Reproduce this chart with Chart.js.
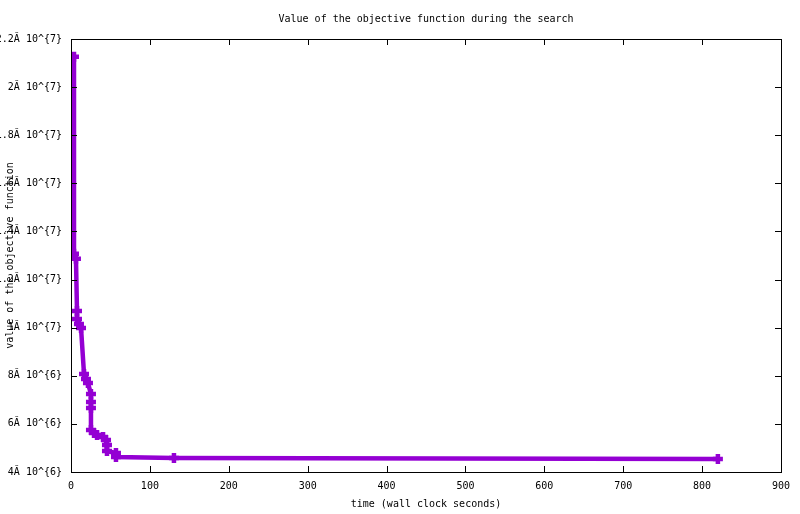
<!DOCTYPE html>
<html>
<head>
<meta charset="utf-8">
<script src="https://cdn.jsdelivr.net/npm/chart.js@4"></script>
<style>
  html, body { margin: 0; padding: 0; background: #fff; }
  canvas { display: block; }
</style>
</head>
<body>
<canvas id="grafico" width="800" height="514"></canvas>
<script>
// wall clock seconds
const tiempos = [3.8, 3.8, 6.3, 7.6, 7.6, 10.1, 12.7, 16.5, 19, 21.5, 25.3, 25.3, 25.3,
  25.3, 29.2, 33, 40.6, 44.4, 45.6, 45.6, 57, 57, 130.5, 820];
// objective function values
const valores = [21.26e6, 13.07e6, 12.86e6, 10.69e6, 10.36e6, 10.15e6, 9.99e6, 8.07e6, 7.87e6,
  7.70e6, 7.24e6, 6.91e6, 6.66e6, 5.75e6, 5.62e6, 5.54e6, 5.46e6, 5.33e6, 5.12e6, 4.87e6,
  4.79e6, 4.62e6, 4.58e6, 4.54e6];
const ticksY = [4e6, 6e6, 8e6, 1e7, 1.2e7, 1.4e7, 1.6e7, 1.8e7, 2e7, 2.2e7];
const etiquetasY = ['4Ă 10^{6}', '6Ă 10^{6}', '8Ă 10^{6}', '1Ă 10^{7}', '1.2Ă 10^{7}',
  '1.4Ă 10^{7}', '1.6Ă 10^{7}', '1.8Ă 10^{7}', '2Ă 10^{7}', '2.2Ă 10^{7}'];

const color = '#9400D3';
Chart.defaults.font.family = "'DejaVu Sans Mono', monospace";
Chart.defaults.font.size = 10;
Chart.defaults.color = '#000';

// gnuplot style frame with inward ticks (mirrored)
const marco = {
  id: 'marco',
  afterDraw(chart) {
    const { ctx, chartArea: a, scales } = chart;
    ctx.save();
    ctx.strokeStyle = '#000';
    ctx.lineWidth = 1;
    ctx.strokeRect(a.left + 0.5, a.top + 0.5, a.right - a.left, a.bottom - a.top);
    const largo = 6;
    ctx.beginPath();
    scales.x.ticks.forEach(t => {
      const px = Math.round(scales.x.getPixelForValue(t.value)) + 0.5;
      ctx.moveTo(px, a.bottom); ctx.lineTo(px, a.bottom - largo);
      ctx.moveTo(px, a.top); ctx.lineTo(px, a.top + largo);
    });
    scales.y.ticks.forEach(t => {
      const py = Math.round(scales.y.getPixelForValue(t.value)) + 0.5;
      ctx.moveTo(a.left, py); ctx.lineTo(a.left + largo, py);
      ctx.moveTo(a.right, py); ctx.lineTo(a.right - largo, py);
    });
    ctx.stroke();
    ctx.restore();
  }
};

new Chart(document.getElementById('grafico'), {
  type: 'line',
  data: {
    datasets: [{
      data: tiempos.map((t, i) => ({ x: t, y: valores[i] })),
      borderColor: color,
      backgroundColor: color,
      borderWidth: 4.5,
      tension: 0,
      pointStyle: 'cross',
      pointRadius: 5,
      pointBorderWidth: 4.5,
      pointBorderColor: color
    }]
  },
  options: {
    responsive: false,
    animation: false,
    devicePixelRatio: 1,
    layout: { padding: { left: 0, right: 19, top: 0, bottom: 0 } },
    plugins: {
      legend: { display: false },
      tooltip: { enabled: false },
      title: {
        display: true,
        fullSize: false,
        text: 'Value of the objective function during the search',
        font: { size: 10, weight: 'normal', lineHeight: 1.2 },
        color: '#000',
        padding: { top: 13, bottom: 14 }
      }
    },
    scales: {
      x: {
        type: 'linear',
        min: 0,
        max: 900,
        ticks: { stepSize: 100, padding: 8, maxRotation: 0 },
        grid: { display: false, drawTicks: false },
        border: { display: false },
        title: { display: true, text: 'time (wall clock seconds)', padding: { top: 4, bottom: 4 } },
        afterFit(s) { s.height = 42; }
      },
      y: {
        type: 'linear',
        min: 4e6,
        max: 2.2e7,
        ticks: {
          stepSize: 2e6,
          padding: 9,
          callback: v => {
            const i = ticksY.findIndex(k => Math.abs(k - v) < 1);
            return i >= 0 ? etiquetasY[i] : '';
          }
        },
        grid: { display: false, drawTicks: false },
        border: { display: false },
        title: { display: true, text: 'value of the objective function', padding: { top: 4, bottom: 4 } },
        afterFit(s) { s.width = 71; }
      }
    }
  },
  plugins: [marco]
});
</script>
</body>
</html>
